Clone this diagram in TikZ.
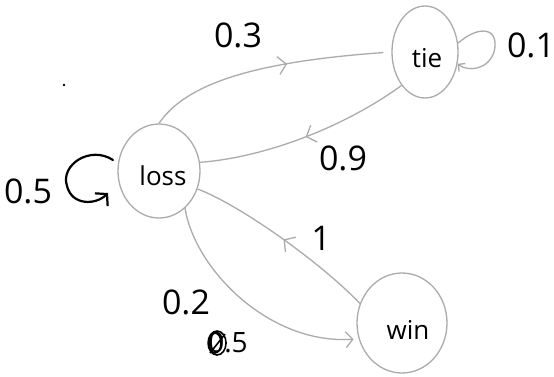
\documentclass[tikz,border=0pt]{standalone}
\usepackage{fontspec}
\setmainfont{Open Sans}
\usetikzlibrary{arrows.meta,decorations.markings,shapes.geometric}
\definecolor{edgegray}{HTML}{ABABAB}
\begin{document}
\begin{tikzpicture}[x=1pt,y=-1pt,
  state/.style={draw=edgegray, line width=1.3pt, ellipse, inner sep=0pt},
  statetext/.style={font=\fontsize{26}{28}\selectfont, inner sep=0pt},
  edge/.style={draw=edgegray, line width=1.3pt},
  pen/.style={draw=black, line width=2.2pt, line cap=round},
  lbl/.style={font=\fontsize{34}{36}\selectfont, inner sep=0pt},
  lblsmall/.style={font=\fontsize{28}{30}\selectfont, inner sep=0pt},
  midarrow/.style={postaction={decorate}, decoration={markings, mark=at position #1 with {\arrow[edgegray, line width=1.3pt]{Straight Barb[length=8pt,width=18pt]}}}},
]
\useasboundingbox (0,0) rectangle (554,376);

% states
\node[state, minimum width=66, minimum height=92] (tie) at (425,52) {};
\node[state, minimum width=82, minimum height=94] (loss) at (159,171) {};
\node[state, minimum width=90, minimum height=100] (win) at (402,323) {};
\node[statetext] (tietxt) at (427,58) {tie};
\node[statetext] (losstxt) at (163,176) {loss};
\node[statetext] (wintxt) at (408,330) {win};

% transitions
\draw[edge, midarrow=0.58, shorten >=8pt] (loss.north) .. controls (185,85) and (250,62) .. (tie.west);
\draw[edge, midarrow=0.5] (tie.235) .. controls (340,130) and (260,158) .. (loss.12);
\draw[edge, -{Straight Barb[length=7pt,width=16pt]}, shorten >=5pt] (loss.-55) .. controls (195,270) and (270,345) .. (win.200);
\draw[edge, midarrow=0.5] (win.155) .. controls (320,262) and (240,205) .. (loss.-25);
\draw[edge, -{Straight Barb[length=5pt,width=10pt]}] (tie.15) .. controls (480,24) and (500,28) .. (494,52) .. controls (488,70) and (468,72) .. (tie.-20);

% loss self-loop (drawn in pen)
\coordinate (ls) at (113,160);
\coordinate (lm) at (67,186);
\coordinate (le) at (108,193);
\draw[pen, -{Straight Barb[length=8pt,width=18pt]}] (ls) .. controls (90,145) and (60,165) .. (lm) .. controls (72,206) and (96,205) .. (le);

% labels
\node[lbl] (l03) at (238,35) {0.3};
\node[lbl] (l01) at (531,45) {0.1};
\node[lbl] (l09) at (343,158) {0.9};
\node[lbl] (l05) at (28,191) {0.5};
\node[lbl] (l1) at (321,238) {1};
\node[lbl] (l02) at (186,302) {0.2};
\node[lblsmall] (l05b) at (228,343) {0.5};
\draw[line width=1.6pt] ([xshift=9pt]l05b.west) ellipse [x radius=9pt, y radius=12pt];
\draw[line width=1.6pt] ([xshift=7pt]l05b.west) ellipse [x radius=6pt, y radius=10pt];
\draw[line width=1.6pt] ([xshift=2pt,yshift=-10pt]l05b.west) -- ([xshift=17pt,yshift=9pt]l05b.west);

% stray pen dot
\fill (64,85) circle (1.3pt);
\end{tikzpicture}
\end{document}
